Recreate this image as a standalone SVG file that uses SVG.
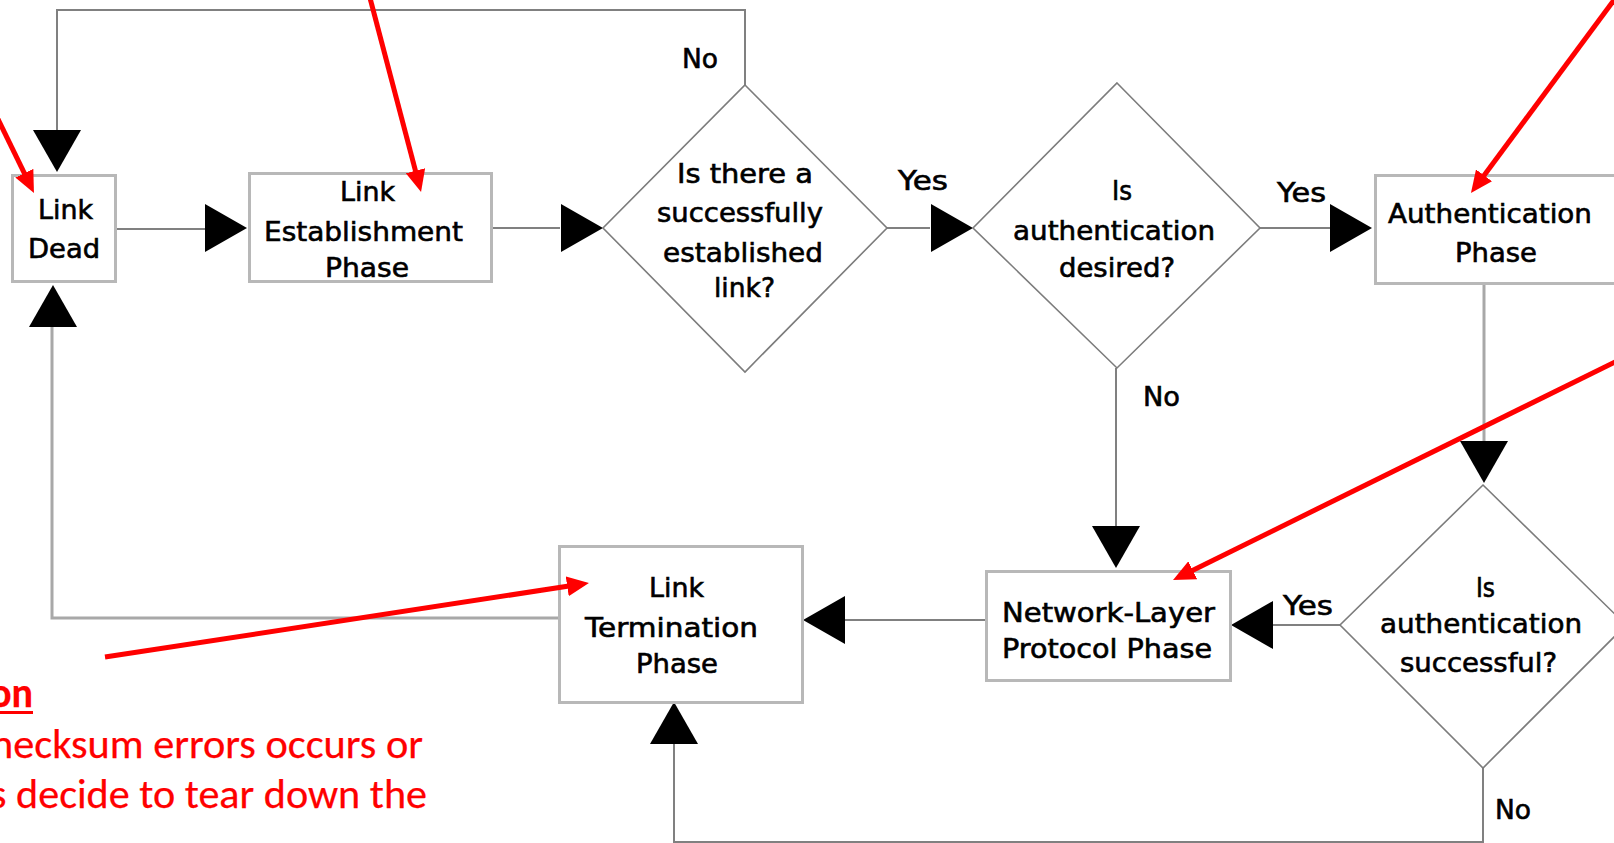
<svg xmlns="http://www.w3.org/2000/svg" xmlns:xlink="http://www.w3.org/1999/xlink" width="1614" height="843" viewBox="0 0 1614 843">
  <style>
    .box { fill: #ffffff; stroke: #b8b8b8; stroke-width: 3; }
    .dia { fill: #ffffff; stroke: #7c7c7c; stroke-width: 1.6; }
    .lbl { font-family: "DejaVu Sans", "Liberation Sans", sans-serif; font-size: 26px; fill: #000000; stroke: #000000; stroke-width: 0.6; }
    .wire { fill: none; stroke: #808080; stroke-width: 2; }
    .wire-lt { fill: none; stroke: #a8a8a8; stroke-width: 3; }
    .note { fill: none; stroke: #ff0000; stroke-width: 5; marker-end: url(#redhead); }
    .notetxt { font-family: "Carlito", "Lato", "Open Sans", sans-serif; font-size: 42px; fill: #ff0000; stroke: #ff0000; stroke-width: 0.25; }
  </style>
  <defs>
    <!-- flowchart arrowhead, tip at the origin pointing along +x -->
    <path id="ah" d="M0,0 L-42,-24 L-42,24 Z" fill="#000000"/>
    <marker id="redhead" markerUnits="userSpaceOnUse" markerWidth="22" markerHeight="20" refX="10" refY="10" orient="auto">
      <path d="M0,0 L22,10 L0,20 Z" fill="#ff0000"/>
    </marker>
  </defs>
  <rect width="1614" height="843" fill="#ffffff"/>

  <!-- connectors -->
  <g id="connectors">
    <!-- Link Dead -> Link Establishment -->
    <line class="wire" x1="117" y1="229" x2="205" y2="229"/>
    <use xlink:href="#ah" transform="translate(247,228)"/>
    <!-- Link Establishment -> established? -->
    <line class="wire" x1="493" y1="228" x2="560" y2="228"/>
    <use xlink:href="#ah" transform="translate(603,228)"/>
    <!-- established? yes -> auth desired? -->
    <line class="wire" x1="887" y1="228" x2="930" y2="228"/>
    <use xlink:href="#ah" transform="translate(973,228)"/>
    <!-- auth desired? yes -> Authentication Phase -->
    <line class="wire" x1="1260" y1="228" x2="1330" y2="228"/>
    <use xlink:href="#ah" transform="translate(1372,228)"/>
    <!-- Authentication Phase -> auth successful? -->
    <line class="wire-lt" x1="1484" y1="285" x2="1484" y2="442" stroke="#b4b4b4"/>
    <use xlink:href="#ah" transform="translate(1484,483) rotate(90)"/>
    <!-- auth successful? yes -> Network-Layer -->
    <line class="wire" x1="1340" y1="625" x2="1270" y2="625"/>
    <use xlink:href="#ah" transform="translate(1231,625) rotate(180)"/>
    <!-- auth desired? no -> Network-Layer -->
    <line class="wire" x1="1116" y1="368" x2="1116" y2="530"/>
    <use xlink:href="#ah" transform="translate(1116,568) rotate(90)"/>
    <!-- Network-Layer -> Link Termination -->
    <line class="wire" x1="985" y1="620" x2="840" y2="620"/>
    <use xlink:href="#ah" transform="translate(803,620) rotate(180)"/>
    <!-- auth successful? no -> Link Termination -->
    <polyline class="wire" points="1483,768 1483,842 674,842 674,738"/>
    <use xlink:href="#ah" transform="translate(674,702) rotate(-90)"/>
    <!-- Link Termination -> Link Dead -->
    <polyline class="wire-lt" points="558,618 52,618 52,320"/>
    <use xlink:href="#ah" transform="translate(53,285) rotate(-90)"/>
    <!-- established? no -> Link Dead -->
    <polyline class="wire" points="745,85 745,10 57,10 57,132"/>
    <use xlink:href="#ah" transform="translate(57,172) rotate(90)"/>

    <!-- branch labels -->
    <text class="lbl" x="682" y="68" textLength="36" lengthAdjust="spacingAndGlyphs">No</text>
    <text class="lbl" x="898" y="190" textLength="50" lengthAdjust="spacingAndGlyphs">Yes</text>
    <text class="lbl" x="1277" y="202" textLength="49" lengthAdjust="spacingAndGlyphs">Yes</text>
    <text class="lbl" x="1143" y="406" textLength="37" lengthAdjust="spacingAndGlyphs">No</text>
    <text class="lbl" x="1283" y="615" textLength="50" lengthAdjust="spacingAndGlyphs">Yes</text>
    <text class="lbl" x="1495" y="819" textLength="36" lengthAdjust="spacingAndGlyphs">No</text>
  </g>

  <!-- nodes -->
  <g id="link-dead">
    <rect class="box" x="12.5" y="175.5" width="103" height="106" stroke="#d0d0d0"/>
    <text class="lbl" x="38" y="219" textLength="55" lengthAdjust="spacingAndGlyphs">Link</text>
    <text class="lbl" x="28" y="258" textLength="72" lengthAdjust="spacingAndGlyphs">Dead</text>
  </g>

  <g id="link-establishment">
    <rect class="box" x="249.5" y="173.5" width="242" height="108"/>
    <text class="lbl" x="340" y="201" textLength="55" lengthAdjust="spacingAndGlyphs">Link</text>
    <text class="lbl" x="264" y="241" textLength="199" lengthAdjust="spacingAndGlyphs">Establishment</text>
    <text class="lbl" x="325" y="277" textLength="84" lengthAdjust="spacingAndGlyphs">Phase</text>
  </g>

  <g id="link-established-check">
    <polygon class="dia" points="745,85 887,228 745,372 603,228"/>
    <text class="lbl" x="677" y="183" textLength="136" lengthAdjust="spacingAndGlyphs">Is there a</text>
    <text class="lbl" x="657" y="222" textLength="166" lengthAdjust="spacingAndGlyphs">successfully</text>
    <text class="lbl" x="663" y="262" textLength="160" lengthAdjust="spacingAndGlyphs">established</text>
    <text class="lbl" x="714" y="297" textLength="61" lengthAdjust="spacingAndGlyphs">link?</text>
  </g>

  <g id="auth-desired-check">
    <polygon class="dia" points="1117,83 1260,228 1117,368 973,228"/>
    <text class="lbl" x="1112" y="200" textLength="20" lengthAdjust="spacingAndGlyphs">Is</text>
    <text class="lbl" x="1013" y="240" textLength="202" lengthAdjust="spacingAndGlyphs">authentication</text>
    <text class="lbl" x="1059" y="277" textLength="116" lengthAdjust="spacingAndGlyphs">desired?</text>
  </g>

  <g id="authentication-phase">
    <rect class="box" x="1375.5" y="175.5" width="260" height="108" stroke="#c4c4c4"/>
    <text class="lbl" x="1388" y="223" textLength="204" lengthAdjust="spacingAndGlyphs">Authentication</text>
    <text class="lbl" x="1455" y="262" textLength="82" lengthAdjust="spacingAndGlyphs">Phase</text>
  </g>

  <g id="auth-successful-check">
    <polygon class="dia" points="1483,485 1626,625 1483,768 1340,625"/>
    <text class="lbl" x="1476" y="597" textLength="19" lengthAdjust="spacingAndGlyphs">Is</text>
    <text class="lbl" x="1380" y="633" textLength="202" lengthAdjust="spacingAndGlyphs">authentication</text>
    <text class="lbl" x="1400" y="672" textLength="157" lengthAdjust="spacingAndGlyphs">successful?</text>
  </g>

  <g id="network-layer-phase">
    <rect class="box" x="986.5" y="571.5" width="244" height="109"/>
    <text class="lbl" x="1002" y="622" textLength="213" lengthAdjust="spacingAndGlyphs">Network-Layer</text>
    <text class="lbl" x="1002" y="658" textLength="210" lengthAdjust="spacingAndGlyphs">Protocol Phase</text>
  </g>

  <g id="link-termination">
    <rect class="box" x="559.5" y="546.5" width="243" height="156" stroke="#ababab"/>
    <text class="lbl" x="649" y="597" textLength="55" lengthAdjust="spacingAndGlyphs">Link</text>
    <text class="lbl" x="585" y="637" textLength="173" lengthAdjust="spacingAndGlyphs">Termination</text>
    <text class="lbl" x="636" y="673" textLength="82" lengthAdjust="spacingAndGlyphs">Phase</text>
  </g>

  <!-- red callouts -->
  <g id="annotations">
    <line class="note" x1="-3" y1="117" x2="28.7" y2="182.2"/>
    <line class="note" x1="370" y1="-2" x2="418" y2="180.4"/>
    <line class="note" x1="1617" y1="-4" x2="1478.1" y2="183.4"/>
    <line class="note" x1="1617" y1="361" x2="1183.8" y2="574.7"/>
    <line class="note" x1="105" y1="657" x2="577.1" y2="584.8"/>
    <text class="notetxt" x="-10" y="707" font-weight="bold" textLength="43" lengthAdjust="spacingAndGlyphs">on</text>
    <rect x="0" y="711" width="33" height="3" fill="#ff0000"/>
    <text class="notetxt" x="-9" y="758" textLength="432" lengthAdjust="spacingAndGlyphs">hecksum errors occurs or</text>
    <text class="notetxt" x="-10" y="808" textLength="437" lengthAdjust="spacingAndGlyphs">s decide to tear down the</text>
  </g>
</svg>
